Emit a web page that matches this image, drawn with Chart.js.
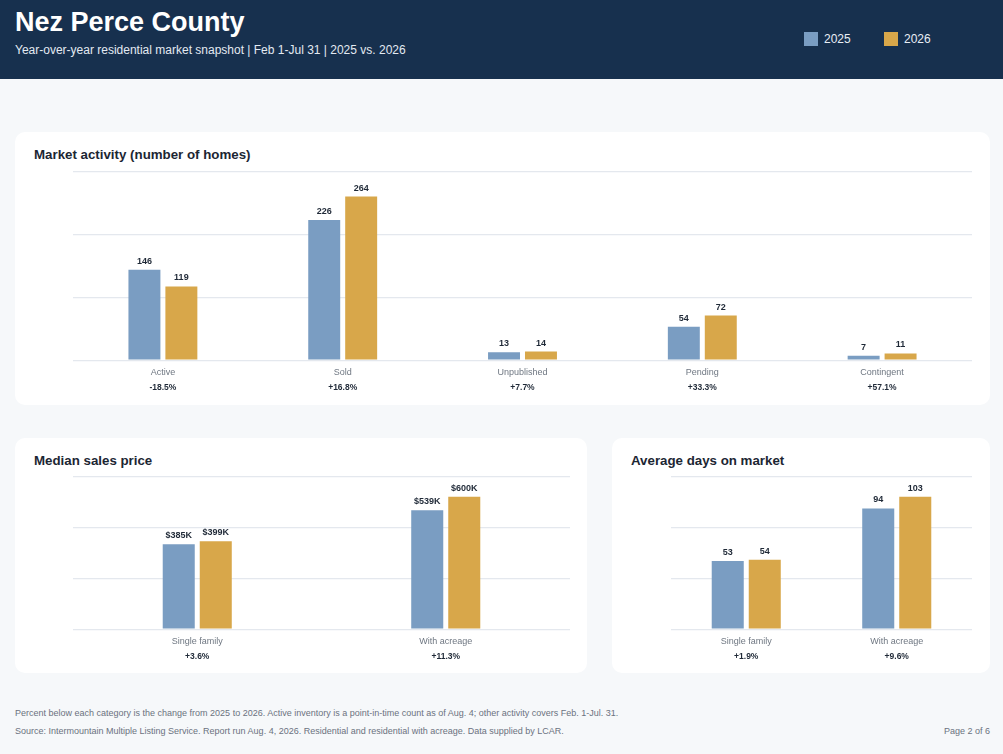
<!DOCTYPE html>
<html>
<head>
<meta charset="utf-8">
<script src="https://cdn.jsdelivr.net/npm/chart.js@4.4.1/dist/chart.umd.min.js"></script>
<style>
  html, body { margin: 0; padding: 0; }
  body { width: 1003px; height: 754px; background: #f6f8fa; font-family: "Liberation Sans", Arial, Helvetica, sans-serif; position: relative; overflow: hidden; }
  .header { position: absolute; left: 0; top: 0; width: 1003px; height: 79px; background: #17304e; }
  .title { position: absolute; left: 15px; top: 7px; color: #fff; font-weight: bold; font-size: 27px; }
  .subtitle { position: absolute; left: 15px; top: 43px; color: #e3eaf2; font-size: 12px; }
  .legend { position: absolute; top: 32px; color: #e8eef5; font-size: 12px; }
  .legend span.sw { position: absolute; left: 0; top: 0; width: 14px; height: 14px; }
  .legend span.tx { position: absolute; left: 20px; top: 0px; line-height: 14px; }
  .card { position: absolute; background: #fff; border-radius: 10px; }
  .card h2 { position: absolute; margin: 0; left: 19px; top: 15px; font-size: 13.3px; font-weight: bold; color: #1c2633; }
  .cv { position: absolute; }
  .foot { position: absolute; left: 15px; font-size: 9px; color: #6b7280; }
</style>
</head>
<body>
<div class="header">
  <div class="title">Nez Perce County</div>
  <div class="subtitle">Year-over-year residential market snapshot | Feb 1-Jul 31 | 2025 vs. 2026</div>
  <div class="legend" style="left:804px"><span class="sw" style="background:#7a9dc2"></span><span class="tx">2025</span></div>
  <div class="legend" style="left:884px"><span class="sw" style="background:#d8a74a"></span><span class="tx">2026</span></div>
</div>

<div class="card" style="left:15px;top:132px;width:975px;height:273px;"><h2>Market activity (number of homes)</h2></div>
<div class="card" style="left:15px;top:438px;width:572px;height:235px;"><h2>Median sales price</h2></div>
<div class="card" style="left:612px;top:438px;width:378px;height:235px;"><h2>Average days on market</h2></div>

<div class="cv" style="left:15px;top:160px;width:975px;height:240px;"><canvas id="c1"></canvas></div>
<div class="cv" style="left:15px;top:465px;width:572px;height:204px;"><canvas id="c2"></canvas></div>
<div class="cv" style="left:612px;top:465px;width:378px;height:204px;"><canvas id="c3"></canvas></div>

<div class="foot" style="top:708px;">Percent below each category is the change from 2025 to 2026. Active inventory is a point-in-time count as of Aug. 4; other activity covers Feb. 1-Jul. 31.</div>
<div class="foot" style="top:726px;">Source: Intermountain Multiple Listing Service. Report run Aug. 4, 2026. Residential and residential with acreage. Data supplied by LCAR.</div>
<div class="foot" style="top:726px;left:auto;right:13px;">Page 2 of 6</div>

<script>
// ---- Data ----
const seriesNames = ['2025', '2026'];

const activityCategories = ['Active', 'Sold', 'Unpublished', 'Pending', 'Contingent'];
const activity2025 = [146, 226, 13, 54, 7];
const activity2026 = [119, 264, 14, 72, 11];
const activityChange = ['-18.5%', '+16.8%', '+7.7%', '+33.3%', '+57.1%'];

const priceCategories = ['Single family', 'With acreage'];
const price2025 = [385, 539];   // $ thousands
const price2026 = [399, 600];
const priceChange = ['+3.6%', '+11.3%'];

const daysCategories = ['Single family', 'With acreage'];
const days2025 = [53, 94];
const days2026 = [54, 103];
const daysChange = ['+1.9%', '+9.6%'];

// ---- Styling ----
const C2025 = '#7a9dc2';
const C2026 = '#d8a74a';
const FONT = '"Liberation Sans", Arial, Helvetica, sans-serif';

const labelPlugin = {
  id: 'valLabels',
  afterDatasetsDraw(chart, args, opts) {
    const ctx = chart.ctx;
    ctx.save();
    ctx.font = 'bold 9px ' + FONT;
    ctx.fillStyle = '#1f2937';
    ctx.textAlign = 'center';
    ctx.textBaseline = 'bottom';
    chart.data.datasets.forEach((ds, di) => {
      const meta = chart.getDatasetMeta(di);
      meta.data.forEach((bar, i) => {
        ctx.fillText(opts.fmt(ds.data[i]), bar.x, bar.y - 4);
      });
    });
    // change percentages under each category
    const xs = chart.scales.x;
    ctx.font = 'bold 8.5px ' + FONT;
    ctx.fillStyle = '#1f2937';
    ctx.textBaseline = 'middle';
    opts.change.forEach((t, i) => {
      ctx.fillText(t, xs.getPixelForValue(i), chart.chartArea.bottom + 27);
    });
    ctx.restore();
  }
};

function makeChart(id, cats, a, b, change, fmt, catPct, padL, padR) {
  const maxV = Math.max(...a, ...b);
  return new Chart(document.getElementById(id), {
    type: 'bar',
    data: {
      labels: cats,
      datasets: [
        { label: seriesNames[0], data: a, backgroundColor: C2025 },
        { label: seriesNames[1], data: b, backgroundColor: C2026 }
      ]
    },
    options: {
      responsive: true,
      maintainAspectRatio: false,
      animation: false,
      layout: { padding: { left: padL, right: padR, top: 12, bottom: 15 } },
      datasets: { bar: { categoryPercentage: catPct, barPercentage: 0.865 } },
      plugins: {
        legend: { display: false },
        tooltip: { enabled: false },
        valLabels: { fmt: fmt, change: change }
      },
      scales: {
        x: {
          grid: { display: false, drawTicks: false },
          border: { display: false },
          ticks: { color: '#6f7782', font: { family: FONT, size: 9 }, padding: 7 }
        },
        y: {
          min: 0,
          max: maxV * 1.15,
          grid: { color: '#e4e8ee', lineWidth: 1.2, drawTicks: false },
          border: { display: false },
          ticks: { display: false, count: 4 }
        }
      }
    },
    plugins: [labelPlugin]
  });
}

makeChart('c1', activityCategories, activity2025, activity2026, activityChange, v => String(v), 0.411, 58, 18);
makeChart('c2', priceCategories, price2025, price2026, priceChange, v => '$' + v + 'K', 0.298, 58, 17);
makeChart('c3', daysCategories, days2025, days2026, daysChange, v => String(v), 0.492, 59, 18);
</script>
</body>
</html>
